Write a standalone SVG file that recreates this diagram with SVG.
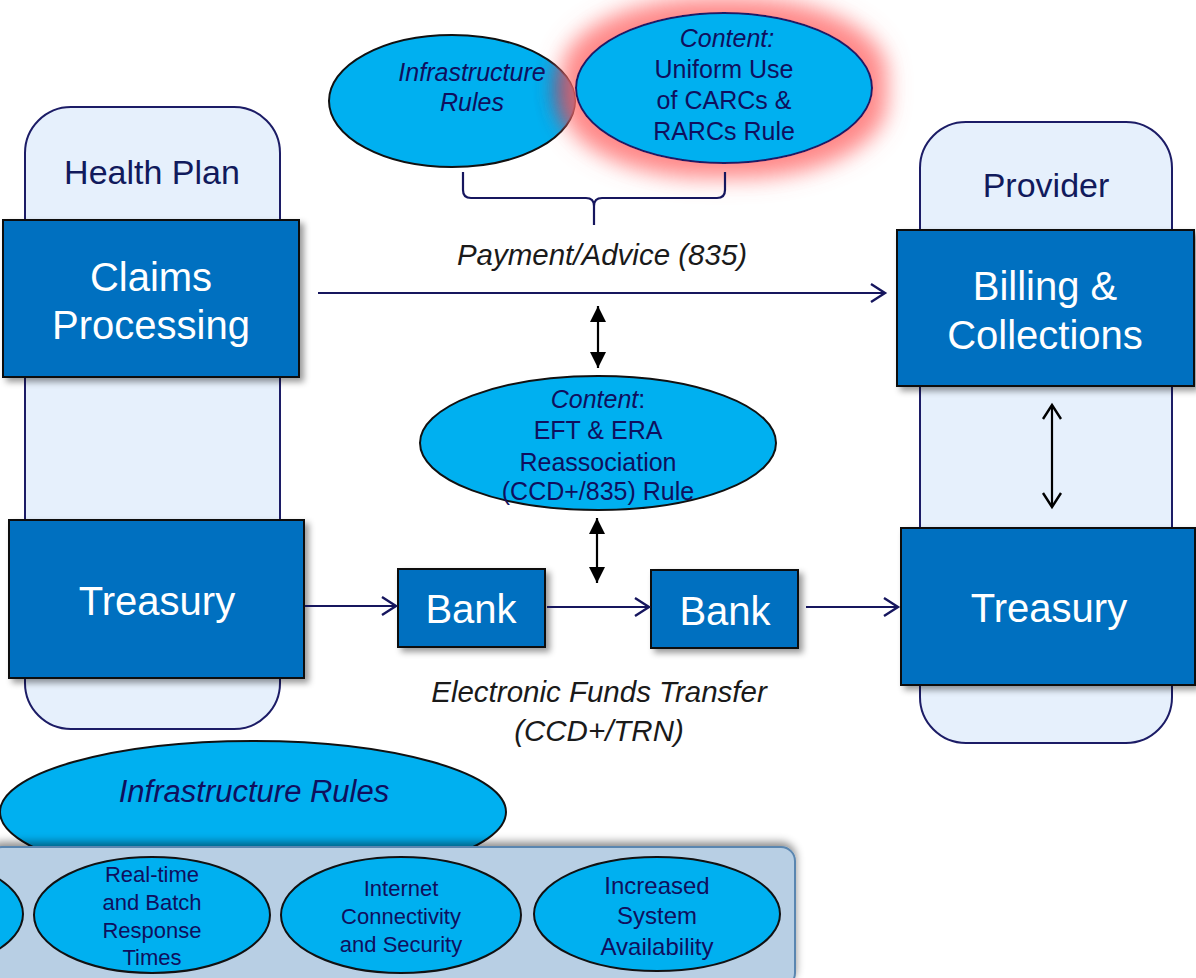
<svg xmlns="http://www.w3.org/2000/svg" width="1196" height="978" viewBox="0 0 1196 978">
<style>
.cont{fill:#e6f0fc;stroke:#1c1c66;stroke-width:2}
.box{fill:#0070c0;stroke:#111;stroke-width:2}
.ell{fill:#00b0f0;stroke:#111;stroke-width:2}
.ellN{fill:#00b0f0;stroke:#1c1c66;stroke-width:2}
.bt{font-family:"Liberation Sans",Arial,sans-serif;fill:#fff;font-size:40px;text-anchor:middle}
.ct{font-family:"Liberation Sans",Arial,sans-serif;fill:#111a5c;font-size:34px;text-anchor:middle}
.et{font-family:"Liberation Sans",Arial,sans-serif;fill:#0f0f5e;font-size:25px;text-anchor:middle}
.pt{font-family:"Liberation Sans",Arial,sans-serif;fill:#0f0f5e;font-size:22px;text-anchor:middle}
.lt{font-family:"Liberation Sans",Arial,sans-serif;fill:#1a1a1a;font-size:29.5px;text-anchor:middle;font-style:italic}
.it{font-style:italic}
.nav{stroke:#16165e;stroke-width:2.2;fill:none}
.blk{stroke:#000;stroke-width:2.2;fill:none}
</style>
<defs>
<filter id="sh" x="-10%" y="-10%" width="130%" height="140%">
<feDropShadow dx="4" dy="4" stdDeviation="3" flood-color="#000" flood-opacity="0.4"/>
</filter>
<filter id="shUp" x="-10%" y="-30%" width="120%" height="160%">
<feDropShadow dx="0" dy="-4" stdDeviation="4" flood-color="#000" flood-opacity="0.45"/>
</filter>
<filter id="glow" x="-40%" y="-60%" width="180%" height="220%">
<feMorphology in="SourceAlpha" operator="dilate" radius="14" result="d"/>
<feGaussianBlur in="d" stdDeviation="11" result="b"/>
<feFlood flood-color="#ff6a6a" flood-opacity="0.8"/>
<feComposite in2="b" operator="in" result="g"/>
<feMerge><feMergeNode in="g"/><feMergeNode in="SourceGraphic"/></feMerge>
</filter>
<filter id="dark" x="-30%" y="-40%" width="160%" height="180%">
<feGaussianBlur stdDeviation="11"/>
</filter>
<clipPath id="clipL"><ellipse cx="452" cy="101" rx="123" ry="66"/></clipPath>
<marker id="open" markerUnits="userSpaceOnUse" markerWidth="20" markerHeight="22" refX="16" refY="11" orient="auto">
<path d="M2,2 L16,11 L2,20" fill="none" stroke="#16165e" stroke-width="2.4"/>
</marker>
<marker id="openK" markerUnits="userSpaceOnUse" markerWidth="20" markerHeight="22" refX="16" refY="11" orient="auto-start-reverse">
<path d="M2,2 L16,11 L2,20" fill="none" stroke="#000" stroke-width="2.4"/>
</marker>
<marker id="fill" markerUnits="userSpaceOnUse" markerWidth="18" markerHeight="16" refX="16" refY="8" orient="auto-start-reverse">
<path d="M0,0 L16,8 L0,16 Z" fill="#000"/>
</marker>
</defs>

<g id="health-plan">
<rect class="cont" x="25" y="107" width="255" height="622" rx="46"/>
<text class="ct" x="152" y="184">Health Plan</text>
</g>
<g id="provider">
<rect class="cont" x="920" y="122" width="252" height="621" rx="46"/>
<text class="ct" x="1046" y="197">Provider</text>
</g>

<g id="infra-top">
<ellipse class="ell" cx="452" cy="101" rx="123" ry="66"/>
<g clip-path="url(#clipL)"><ellipse cx="724" cy="88" rx="168" ry="92" fill="#4a4a80" opacity="0.9" filter="url(#dark)"/></g>
<text class="et it" x="472" y="81">Infrastructure</text>
<text class="et it" x="472" y="111">Rules</text>
</g>
<g id="content-carcs">
<ellipse class="ellN" cx="724" cy="88" rx="148" ry="75" filter="url(#glow)"/>
<text class="et it" x="727" y="47">Content:</text>
<text class="et" x="724" y="78">Uniform Use</text>
<text class="et" x="724" y="109">of CARCs &amp;</text>
<text class="et" x="724" y="140">RARCs Rule</text>
</g>

<g id="claims">
<rect class="box" x="3" y="220" width="296" height="157" filter="url(#sh)"/>
<text class="bt" x="151" y="291">Claims</text>
<text class="bt" x="151" y="339">Processing</text>
</g>
<g id="treasury-left">
<rect class="box" x="9" y="520" width="295" height="158" filter="url(#sh)"/>
<text class="bt" x="157" y="615">Treasury</text>
</g>
<g id="billing">
<rect class="box" x="897" y="230" width="297" height="156" filter="url(#sh)"/>
<text class="bt" x="1045" y="300">Billing &amp;</text>
<text class="bt" x="1045" y="349">Collections</text>
</g>
<g id="treasury-right">
<rect class="box" x="901" y="528" width="294" height="157" filter="url(#sh)"/>
<text class="bt" x="1049" y="622">Treasury</text>
</g>
<g id="bank1">
<rect class="box" x="398" y="569" width="147" height="78" filter="url(#sh)"/>
<text class="bt" x="471" y="623">Bank</text>
</g>
<g id="bank2">
<rect class="box" x="651" y="570" width="147" height="78" filter="url(#sh)"/>
<text class="bt" x="725" y="625">Bank</text>
</g>

<g id="eft-era">
<ellipse class="ell" cx="598" cy="443" rx="178" ry="67"/>
<text class="et" x="598" y="408"><tspan class="it">Content</tspan>:</text>
<text class="et" x="598" y="439">EFT &amp; ERA</text>
<text class="et" x="598" y="471">Reassociation</text>
<text class="et" x="598" y="500">(CCD+/835) Rule</text>
</g>

<g id="connectors">
<path class="nav" d="M463,172 L463,190 Q463,198 471,198 L586,198 Q594,198 594,206 L594,225 M594,206 Q594,198 602,198 L717,198 Q725,198 725,190 L725,172"/>
<line class="nav" x1="318" y1="293" x2="885" y2="293" marker-end="url(#open)"/>
<line class="nav" x1="305" y1="606" x2="396" y2="606" marker-end="url(#open)"/>
<line class="nav" x1="547" y1="607" x2="649" y2="607" marker-end="url(#open)"/>
<line class="nav" x1="806" y1="607" x2="898" y2="607" marker-end="url(#open)"/>
<line class="blk" x1="598" y1="306" x2="598" y2="368" marker-start="url(#fill)" marker-end="url(#fill)"/>
<line class="blk" x1="597" y1="518" x2="597" y2="583" marker-start="url(#fill)" marker-end="url(#fill)"/>
<line class="blk" x1="1052" y1="405" x2="1052" y2="507" marker-start="url(#openK)" marker-end="url(#openK)"/>
</g>

<g id="labels">
<text class="lt" x="602" y="265">Payment/Advice (835)</text>
<text class="lt" x="599" y="702">Electronic Funds Transfer</text>
<text class="lt" x="599" y="741">(CCD+/TRN)</text>
</g>

<g id="infra-bottom">
<ellipse class="ell" cx="253" cy="812" rx="253" ry="71"/>
<text class="et it" x="254" y="802" style="font-size:31px">Infrastructure Rules</text>
</g>
<g id="panel">
<rect x="-12" y="847" width="807" height="140" rx="14" fill="#b8cfe4" stroke="#5a86b0" stroke-width="2" filter="url(#shUp)"/>
</g>
<g id="ell-partial">
<ellipse class="ell" cx="-95" cy="914" rx="118" ry="58"/>
</g>
<g id="realtime">
<ellipse class="ell" cx="152" cy="915" rx="118" ry="58"/>
<text class="pt" x="152" y="882">Real-time</text>
<text class="pt" x="152" y="910">and Batch</text>
<text class="pt" x="152" y="938">Response</text>
<text class="pt" x="152" y="965">Times</text>
</g>
<g id="internet">
<ellipse class="ell" cx="401" cy="915" rx="120" ry="58"/>
<text class="pt" x="401" y="896">Internet</text>
<text class="pt" x="401" y="924">Connectivity</text>
<text class="pt" x="401" y="952">and Security</text>
</g>
<g id="availability">
<ellipse class="ell" cx="657" cy="914" rx="123" ry="57"/>
<text class="pt" x="657" y="894" style="font-size:24px">Increased</text>
<text class="pt" x="657" y="924" style="font-size:24px">System</text>
<text class="pt" x="657" y="955" style="font-size:24px">Availability</text>
</g>
</svg>
